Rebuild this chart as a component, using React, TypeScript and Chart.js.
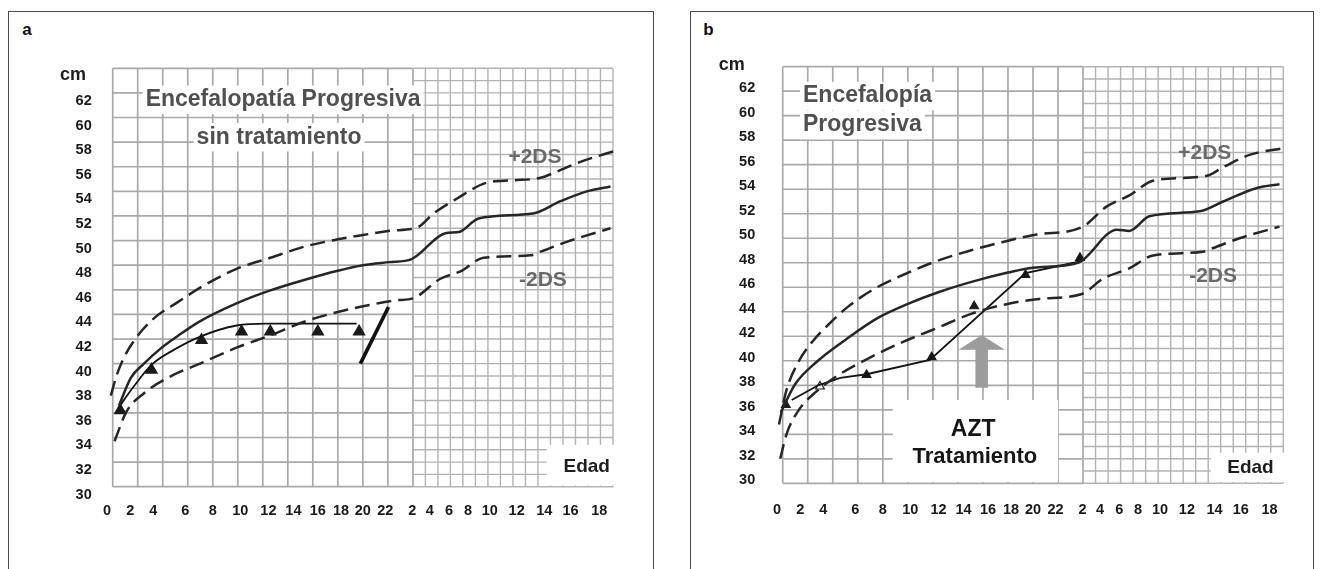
import React, { useEffect, useRef } from 'react';
import { Chart, registerables } from 'chart.js';

Chart.register(...registerables);

// x unit: months 0–24, then 24 + (years − 2) for the 2–18 year part
const xTickAt = [-0.45, 1.4, 3.25, 5.8, 8.0, 10.2, 12.45, 14.45, 16.4, 18.25, 20.0, 21.8, 23.95, 25.35, 26.9, 28.4, 30.15, 32.3, 34.5, 36.6, 38.9];
const xTickLabels = ['0', '2', '4', '6', '8', '10', '12', '14', '16', '18', '20', '22', '2', '4', '6', '8', '10', '12', '14', '16', '18'];
const yTickValues = [30, 32, 34, 36, 38, 40, 42, 44, 46, 48, 50, 52, 54, 56, 58, 60, 62];

// ---- Panel a : Encefalopatía Progresiva sin tratamiento ----
const aPlusX = [-0.15, 0.3, 0.9, 1.8, 3.2, 5.2, 7.2, 9.9, 12.6, 15.3, 18.0, 20.0, 22.2, 24.4, 25.65, 27.5, 29.9, 32.0, 34.2, 35.5, 37.4, 40.2];
const aPlusY = [37.4, 39.0, 40.5, 42.0, 43.6, 45.0, 46.3, 47.7, 48.6, 49.5, 50.1, 50.45, 50.8, 51.1, 52.2, 53.4, 54.7, 54.9, 55.1, 55.6, 56.4, 57.3];
const aMedX = [0.5, 1.45, 2.5, 3.8, 5.2, 6.9, 9.9, 12.6, 15.3, 18.0, 20.0, 22.1, 23.9, 26.6, 27.7, 29.25, 33.6, 35.8, 37.9, 39.8];
const aMedY = [36.6, 38.85, 40.0, 41.2, 42.25, 43.4, 44.9, 45.95, 46.8, 47.55, 48.0, 48.25, 48.5, 50.6, 50.7, 51.8, 52.2, 53.2, 54.0, 54.4];
const aMinusX = [0.15, 1.1, 2.5, 4.5, 7.2, 9.9, 12.6, 15.3, 18.0, 20.7, 22.7, 24.0, 26.2, 27.8, 29.65, 33.4, 34.2, 36.3, 39.8];
const aMinusY = [33.7, 36.1, 37.6, 38.9, 40.1, 41.3, 42.3, 43.4, 44.2, 44.8, 45.15, 45.3, 46.9, 47.5, 48.6, 48.8, 49.1, 49.9, 51.0];
const aPatientX = [0.45, 1.65, 3.1, 4.85, 7.0, 9.9, 12.3, 19.5];
const aPatientY = [36.4, 38.1, 39.9, 41.1, 42.2, 43.1, 43.25, 43.25];
const aTriX = [0.6, 3.1, 7.1, 10.3, 12.6, 16.4, 19.7];
const aTriY = [36.2, 39.5, 41.9, 42.6, 42.6, 42.6, 42.6];
const aSlashX = [19.8, 22.05];
const aSlashY = [40.0, 44.6];

// ---- Panel b : Encefalopía Progresiva, AZT ----
const bPlusX = [-0.3, 0.3, 1.2, 2.4, 3.7, 5.2, 7.2, 9.6, 12.2, 15.0, 17.6, 20.3, 23.9, 25.9, 27.7, 29.6, 33.9, 35.2, 37.3, 40.25];
const bPlusY = [34.8, 37.6, 39.8, 41.6, 43.0, 44.4, 45.8, 47.0, 48.1, 49.0, 49.7, 50.3, 50.9, 52.6, 53.5, 54.7, 55.1, 55.8, 56.8, 57.4];
const bMedX = [-0.15, 1.0, 2.7, 5.0, 7.6, 9.9, 12.6, 15.3, 18.0, 20.0, 23.6, 26.7, 27.7, 29.3, 33.3, 35.2, 37.9, 39.7];
const bMedY = [35.8, 38.1, 39.9, 41.7, 43.5, 44.6, 45.65, 46.5, 47.2, 47.6, 48.0, 50.7, 50.6, 51.8, 52.2, 53.0, 54.1, 54.4];
const bMinusX = [-0.2, 0.3, 1.3, 2.7, 4.4, 7.05, 9.75, 12.4, 15.1, 17.8, 20.5, 23.9, 25.6, 27.7, 29.6, 33.6, 34.4, 36.5, 39.7];
const bMinusY = [32.0, 34.0, 36.0, 37.5, 38.8, 40.3, 41.6, 42.7, 43.85, 44.6, 45.05, 45.45, 46.7, 47.55, 48.6, 48.9, 49.2, 50.0, 50.95];
const bPatientX = [0.72, 2.84, 4.6, 6.7, 11.76, 19.4, 23.75];
const bPatientY = [36.8, 38.0, 38.6, 38.9, 40.07, 47.15, 48.1];
const bTriX = [0.25, 2.98, 6.7, 11.9, 15.3, 19.4, 23.75];
const bTriY = [36.4, 37.9, 38.85, 40.3, 44.45, 47.0, 48.4];

const F = "'Liberation Sans', Arial, Helvetica, sans-serif";

const pts = (xs: number[], ys: number[]) => xs.map((x, i) => ({ x, y: ys[i] }));

const refLine = (xs: number[], ys: number[], dashed: boolean) => ({
  data: pts(xs, ys),
  borderColor: '#262626',
  borderWidth: 2.5,
  borderDash: dashed ? [15, 7] : [],
  pointRadius: 0,
  cubicInterpolationMode: 'monotone',
  fill: false,
});

type TextSpec = { t: string; x: number; y: number; size: number; color: string; align?: CanvasTextAlign; bg?: boolean };
type Box = { x0: number; x1: number; y0: number; y1: number };
type Arrow = { x: number; tip: number; base: number; bottom: number; head: number; shaft: number; color: string };

type PanelSpec = {
  left: number;
  yAxisWidth: number;
  padTop: number;
  padRight: number;
  xAxisHeight: number;
  yLabelOffset: number;
  yTickPad: number;
  xTickPad: number;
  datasets: any[];
  texts: TextSpec[];
  boxes: Box[];
  arrow?: Arrow;
};

const makeDecor = (spec: PanelSpec) => ({
  id: 'decor',
  beforeDatasetsDraw(chart: any) {
    const { ctx } = chart;
    const sx = chart.scales.x;
    const sy = chart.scales.y;
    const X = (v: number) => sx.getPixelForValue(v);
    const Y = (v: number) => sy.getPixelForValue(v);
    const seg = (x0: number, y0: number, x1: number, y1: number) => {
      ctx.beginPath();
      ctx.moveTo(x0, y0);
      ctx.lineTo(x1, y1);
      ctx.stroke();
    };
    ctx.save();
    // first two years: every 2 months / 2 cm
    ctx.strokeStyle = '#a9a9a9';
    ctx.lineWidth = 1.7;
    for (let m = 0; m <= 24; m += 2) seg(X(m), Y(30), X(m), Y(64));
    for (let c = 30; c <= 64; c += 2) seg(X(0), Y(c), X(24), Y(c));
    // 2–18 years: every year / 1 cm
    ctx.strokeStyle = '#b3b3b3';
    ctx.lineWidth = 1.4;
    for (let k = 24; k <= 40; k += 1) seg(X(k), Y(30), X(k), Y(64));
    for (let c = 30; c <= 64; c += 1) seg(X(24), Y(c), X(40), Y(c));
    // white label areas
    ctx.fillStyle = '#ffffff';
    spec.boxes.forEach((b) => {
      ctx.fillRect(X(b.x0), Y(b.y1), X(b.x1) - X(b.x0), Y(b.y0) - Y(b.y1));
    });
    // treatment arrow
    if (spec.arrow) {
      const a = spec.arrow;
      ctx.fillStyle = a.color;
      ctx.beginPath();
      ctx.moveTo(X(a.x), Y(a.tip));
      ctx.lineTo(X(a.x + a.head), Y(a.base));
      ctx.lineTo(X(a.x + a.shaft), Y(a.base));
      ctx.lineTo(X(a.x + a.shaft), Y(a.bottom));
      ctx.lineTo(X(a.x - a.shaft), Y(a.bottom));
      ctx.lineTo(X(a.x - a.shaft), Y(a.base));
      ctx.lineTo(X(a.x - a.head), Y(a.base));
      ctx.closePath();
      ctx.fill();
    }
    ctx.restore();
  },
  afterDatasetsDraw(chart: any) {
    const { ctx } = chart;
    const sx = chart.scales.x;
    const sy = chart.scales.y;
    ctx.save();
    ctx.textBaseline = 'middle';
    spec.texts.forEach((tx) => {
      const px = sx.getPixelForValue(tx.x);
      const py = sy.getPixelForValue(tx.y);
      ctx.font = `bold ${tx.size}px ${F}`;
      const align = tx.align || 'center';
      ctx.textAlign = align;
      if (tx.bg) {
        const w = ctx.measureText(tx.t).width;
        const left = align === 'center' ? px - w / 2 : px;
        ctx.fillStyle = '#ffffff';
        ctx.fillRect(left - 3, py - tx.size * 0.62, w + 6, tx.size * 1.24);
      }
      ctx.fillStyle = tx.color;
      ctx.fillText(tx.t, px, py);
    });
    ctx.restore();
  },
});

const triangles = (xs: number[], ys: number[], r: number, hollowIndex = -1) => ({
  data: pts(xs, ys),
  showLine: false,
  pointStyle: 'triangle',
  pointRadius: r,
  pointBorderWidth: 1.2,
  pointBorderColor: '#1a1a1a',
  pointBackgroundColor: (c: any) => (c.dataIndex === hollowIndex ? '#ffffff' : '#1a1a1a'),
});

const panelA: PanelSpec = {
  left: 0,
  yAxisWidth: 100.2,
  padTop: 68.3,
  padRight: 34.5,
  xAxisHeight: 82.3,
  yLabelOffset: 8,
  yTickPad: 8.5,
  xTickPad: 16,
  datasets: [
    refLine(aPlusX, aPlusY, true),
    refLine(aMedX, aMedY, false),
    refLine(aMinusX, aMinusY, true),
    { data: pts(aPatientX, aPatientY), borderColor: '#141414', borderWidth: 1.8, pointRadius: 0, cubicInterpolationMode: 'monotone' },
    triangles(aTriX, aTriY, 6.5),
    { data: pts(aSlashX, aSlashY), borderColor: '#111111', borderWidth: 3.6, pointRadius: 0 },
  ],
  texts: [
    { t: 'Encefalopatía Progresiva', x: 13.62, y: 61.44, size: 23, color: '#505050', bg: true },
    { t: 'sin tratamiento', x: 13.3, y: 58.4, size: 23, color: '#505050', bg: true },
    { t: '+2DS', x: 33.76, y: 56.79, size: 21, color: '#6a6a6a' },
    { t: '-2DS', x: 34.4, y: 46.8, size: 21, color: '#6a6a6a' },
    { t: 'Edad', x: 37.9, y: 31.63, size: 19, color: '#1e1e1e' },
    { t: 'cm', x: -3.17, y: 63.47, size: 18, color: '#1e1e1e' },
  ],
  boxes: [{ x0: 34.7, x1: 40.1, y0: 30.1, y1: 33.4 }],
};

const panelB: PanelSpec = {
  left: 660,
  yAxisWidth: 110.2,
  padTop: 66.7,
  padRight: 24.2,
  xAxisHeight: 85.7,
  yLabelOffset: -3,
  yTickPad: 15,
  xTickPad: 18,
  datasets: [
    refLine(bPlusX, bPlusY, true),
    refLine(bMedX, bMedY, false),
    refLine(bMinusX, bMinusY, true),
    { data: pts(bPatientX, bPatientY), borderColor: '#141414', borderWidth: 1.9, pointRadius: 0 },
    triangles(bTriX, bTriY, 5, 1),
  ],
  texts: [
    { t: 'Encefalopía', x: 1.62, y: 61.6, size: 23, color: '#505050', align: 'left', bg: true },
    { t: 'Progresiva', x: 1.62, y: 59.24, size: 23, color: '#505050', align: 'left', bg: true },
    { t: '+2DS', x: 33.73, y: 56.96, size: 21, color: '#6a6a6a' },
    { t: '-2DS', x: 34.39, y: 46.87, size: 21, color: '#6a6a6a' },
    { t: 'Edad', x: 37.38, y: 31.25, size: 19, color: '#1e1e1e' },
    { t: 'AZT', x: 15.22, y: 34.35, size: 23, color: '#161616' },
    { t: 'Tratamiento', x: 15.36, y: 32.17, size: 22, color: '#161616' },
    { t: 'cm', x: -4.07, y: 64.15, size: 18, color: '#1e1e1e' },
  ],
  boxes: [
    { x0: 34.2, x1: 40.1, y0: 30.1, y1: 32.5 },
    { x0: 8.8, x1: 22.0, y0: 30.1, y1: 36.8 },
  ],
  arrow: { x: 15.9, tip: 42.1, base: 40.9, bottom: 37.8, head: 1.85, shaft: 0.5, color: '#9c9c9c' },
};

function Panel({ spec }: { spec: PanelSpec }) {
  const ref = useRef<HTMLCanvasElement>(null);
  useEffect(() => {
    const tickFont = { family: F, size: 14.5, weight: 'bold' as const };
    const chart = new Chart(ref.current as HTMLCanvasElement, {
      type: 'line',
      data: { datasets: spec.datasets },
      options: {
        responsive: false,
        animation: false,
        events: [],
        layout: { padding: { top: spec.padTop, right: spec.padRight, left: 0, bottom: 0 } },
        plugins: { legend: { display: false }, tooltip: { enabled: false } },
        scales: {
          x: {
            type: 'linear',
            min: -1,
            max: 41,
            grid: { display: false, drawTicks: false },
            border: { display: false },
            afterBuildTicks: (s: any) => {
              s.ticks = xTickAt.map((v) => ({ value: v }));
            },
            afterFit: (s: any) => {
              s.height = spec.xAxisHeight;
            },
            ticks: {
              autoSkip: false,
              maxRotation: 0,
              minRotation: 0,
              padding: spec.xTickPad,
              color: '#1a1a1a',
              font: tickFont,
              callback: (_v: any, i: number) => xTickLabels[i],
            },
          },
          y: {
            type: 'linear',
            min: 30,
            max: 64,
            grid: { display: false, drawTicks: false },
            border: { display: false },
            afterBuildTicks: (s: any) => {
              s.ticks = yTickValues.map((v) => ({ value: v }));
            },
            afterFit: (s: any) => {
              s.width = spec.yAxisWidth;
            },
            ticks: {
              autoSkip: false,
              padding: spec.yTickPad,
              labelOffset: spec.yLabelOffset,
              color: '#1a1a1a',
              font: tickFont,
              callback: (v: any) => String(v),
            },
          },
        },
      } as any,
      plugins: [makeDecor(spec)],
    });
    return () => chart.destroy();
  }, [spec]);
  return (
    <canvas
      ref={ref}
      width={660}
      height={569}
      style={{ position: 'absolute', left: spec.left, top: 0, width: 660, height: 569 }}
    />
  );
}

const frame = (left: number, width: number): React.CSSProperties => ({
  position: 'absolute',
  left,
  top: 11,
  width,
  height: 600,
  border: '1px solid #4a4a4a',
  boxSizing: 'border-box',
  background: '#ffffff',
});

const letter = (left: number): React.CSSProperties => ({
  position: 'absolute',
  left,
  top: 29,
  transform: 'translate(-50%, -50%)',
  font: `bold 17px ${F}`,
  color: '#111111',
  lineHeight: 1,
});

export default function App() {
  return (
    <div style={{ position: 'absolute', left: 0, top: 0, width: 1320, height: 569, overflow: 'hidden', background: '#ffffff' }}>
      <div style={frame(8, 646)} />
      <div style={frame(690, 624)} />
      <div style={letter(27)}>a</div>
      <div style={letter(708.5)}>b</div>
      <Panel spec={panelA} />
      <Panel spec={panelB} />
    </div>
  );
}
